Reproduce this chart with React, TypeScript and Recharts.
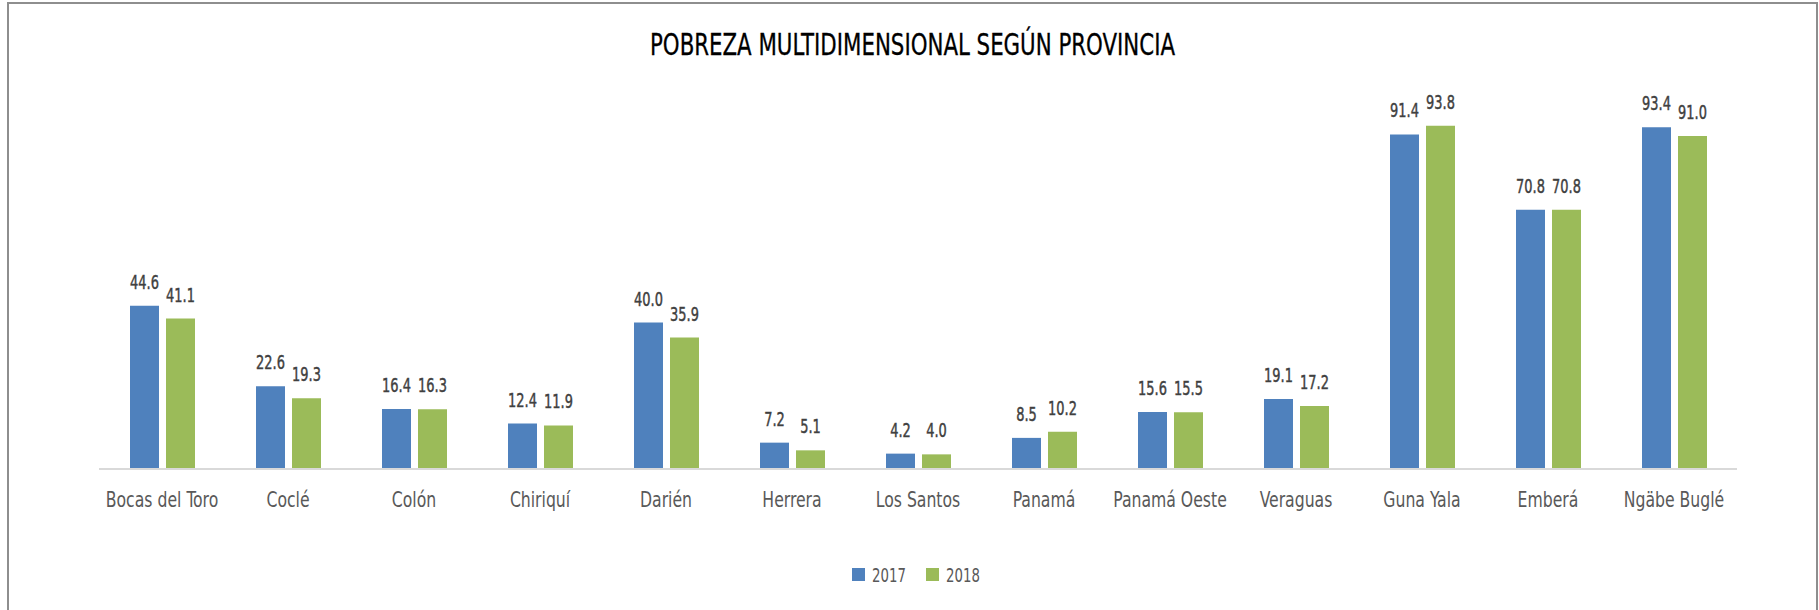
import React from "react";
import { BarChart, Bar, XAxis, YAxis, LabelList } from "recharts";

const provinces = [
  "Bocas del Toro",
  "Coclé",
  "Colón",
  "Chiriquí",
  "Darién",
  "Herrera",
  "Los Santos",
  "Panamá",
  "Panamá Oeste",
  "Veraguas",
  "Guna Yala",
  "Emberá",
  "Ngäbe Buglé",
];
const values2017 = [44.6, 22.6, 16.4, 12.4, 40.0, 7.2, 4.2, 8.5, 15.6, 19.1, 91.4, 70.8, 93.4];
const values2018 = [41.1, 19.3, 16.3, 11.9, 35.9, 5.1, 4.0, 10.2, 15.5, 17.2, 93.8, 70.8, 91.0];
const seriesNames = ["2017", "2018"];
const seriesColors = ["#4F81BD", "#9BBB59"];
const title = "POBREZA MULTIDIMENSIONAL SEGÚN PROVINCIA";

const data = provinces.map((p, i) => ({ name: p, y2017: values2017[i], y2018: values2018[i] }));

const FONT = "'DejaVu Sans Condensed', 'DejaVu Sans', sans-serif";

const CatTick = (props: any) => {
  const { x, y, payload } = props;
  return (
    <text
      transform={`translate(${x},${y + 38}) scale(0.85,1)`}
      textAnchor="middle"
      fill="#595959"
      fontSize={20.5}
      fontFamily={FONT}
    >
      {payload.value}
    </text>
  );
};

const ValueLabel = (props: any) => {
  const { x, y, width, value } = props;
  const cx = Number(x) + Number(width) / 2;
  return (
    <text
      transform={`translate(${cx},${Number(y) - 17}) scale(0.72,1)`}
      textAnchor="middle"
      fill="#404040"
      stroke="#404040"
      strokeWidth={0.45}
      fontSize={20}
      fontFamily={FONT}
    >
      {Number(value).toFixed(1)}
    </text>
  );
};

export default function App() {
  const legendX = [843, 917];
  return (
    <div
      style={{
        position: "absolute",
        left: 7,
        top: 2,
        width: 1807,
        height: 640,
        border: "2px solid #8e8e8e",
        background: "#fff",
      }}
    >
      <svg width={1807} height={640} style={{ position: "absolute", left: 0, top: 0 }}>
        <text
          x={903.5}
          y={51}
          textAnchor="middle"
          fontSize={31}
          fontFamily={FONT}
          fill="#000"
          stroke="#000"
          strokeWidth={0.3}
          textLength={525}
          lengthAdjust="spacingAndGlyphs"
        >
          {title}
        </text>
        {seriesNames.map((n, i) => (
          <g key={n}>
            <rect x={legendX[i]} y={564} width={13} height={13} fill={seriesColors[i]} />
            <text
              transform={`translate(${legendX[i] + 20},${578}) scale(0.74,1)`}
              fontSize={20}
              fontFamily={FONT}
              fill="#595959"
            >
              {n}
            </text>
          </g>
        ))}
      </svg>
      <div style={{ position: "absolute", left: 0, top: 0 }}>
        <BarChart
          width={1807}
          height={600}
          data={data}
          margin={{ top: 99, right: 79, bottom: 105, left: 90 }}
          barSize={29}
          barGap={7}
        >
          <XAxis
            dataKey="name"
            height={30}
            axisLine={{ stroke: "#D9D9D9", strokeWidth: 2 }}
            tickLine={false}
            tickSize={0}
            tickMargin={0}
            tick={<CatTick />}
            interval={0}
          />
          <YAxis hide domain={[0, 100]} />
          <Bar dataKey="y2017" name={seriesNames[0]} fill={seriesColors[0]} isAnimationActive={false}>
            <LabelList dataKey="y2017" content={<ValueLabel />} />
          </Bar>
          <Bar dataKey="y2018" name={seriesNames[1]} fill={seriesColors[1]} isAnimationActive={false}>
            <LabelList dataKey="y2018" content={<ValueLabel />} />
          </Bar>
        </BarChart>
      </div>
    </div>
  );
}
